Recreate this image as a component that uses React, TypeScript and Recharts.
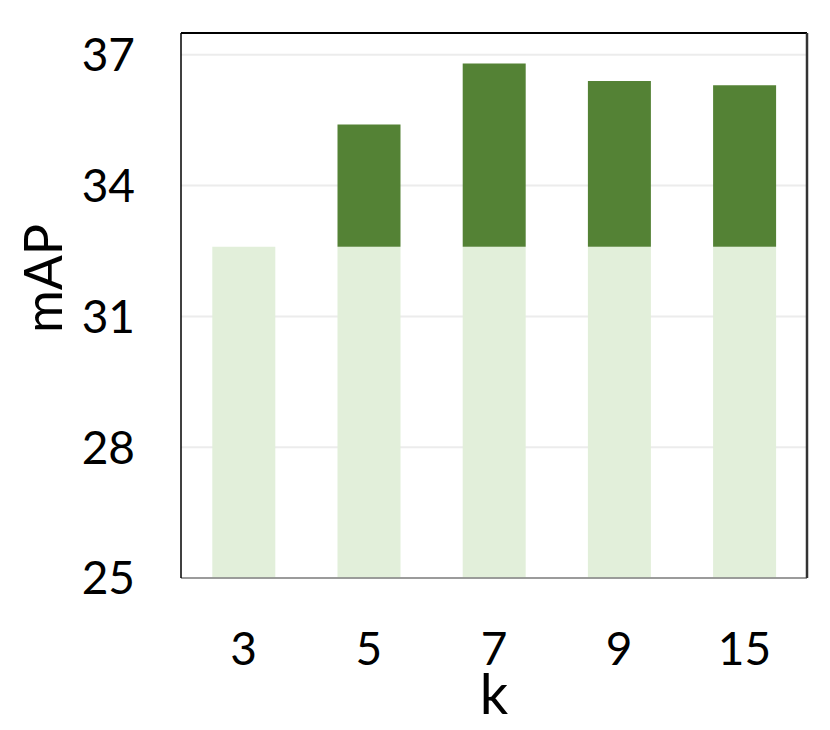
import { Bar, BarChart, CartesianGrid, ReferenceLine, XAxis, YAxis } from "recharts";

const categories = ["3", "5", "7", "9", "15"];
const baseMap = [32.6, 32.6, 32.6, 32.6, 32.6];
const totalMap = [32.6, 35.4, 36.8, 36.4, 36.3];
const yTicks = [25, 28, 31, 34, 37];

const data = categories.map((k, i) => ({
  k,
  base: baseMap[i],
  gain: +(totalMap[i] - baseMap[i]).toFixed(2),
}));

const font = "Lato, 'Open Sans', sans-serif";

const YLabel = (props: any) => {
  const vb = props.viewBox;
  const cx = vb.x + 62;
  const cy = vb.y + vb.height / 2 - 27;
  return (
    <text
      x={cx}
      y={cy}
      transform={`rotate(-90 ${cx} ${cy})`}
      textAnchor="middle"
      fontSize={52}
      fontFamily={font}
      fill="#000"
    >
      mAP
    </text>
  );
};

export default function App() {
  return (
    <div style={{ position: "absolute", left: 0, top: 0, background: "#fff" }}>
      <BarChart
        width={830}
        height={730}
        data={data}
        margin={{ top: 33, right: 22, bottom: 0, left: 0 }}
        barCategoryGap="25%"
      >
        <CartesianGrid
          yAxisId="left"
          vertical={false}
          stroke="#ececec"
          strokeWidth={2}
        />
        <XAxis
          dataKey="k"
          height={152}
          tickLine={false}
          tickSize={0}
          tickMargin={54}
          axisLine={{ stroke: "#808080", strokeWidth: 1.5 }}
          tick={{ fontSize: 46, fontFamily: font, fill: "#000" }}
          label={{
            value: "k",
            position: "insideBottom",
            offset: 16,
            fontSize: 56,
            fontFamily: font,
            fill: "#000",
          }}
        />
        <YAxis
          yAxisId="left"
          width={181}
          domain={[25, 37.5]}
          ticks={yTicks}
          allowDataOverflow
          tickLine={false}
          tickSize={0}
          tickMargin={46}
          axisLine={{ stroke: "#000", strokeWidth: 1.5 }}
          tick={{ fontSize: 46, fontFamily: font, fill: "#000" }}
          label={{ content: YLabel }}
        />
        <YAxis
          yAxisId="right"
          orientation="right"
          width={1}
          domain={[25, 37.5]}
          tick={false}
          tickLine={false}
          axisLine={{ stroke: "#333", strokeWidth: 2.5 }}
        />
        <ReferenceLine yAxisId="left" y={37.5} stroke="#000" strokeWidth={2} />
        <Bar
          yAxisId="left"
          dataKey="base"
          stackId="a"
          fill="#E2EFDA"
          isAnimationActive={false}
        />
        <Bar
          yAxisId="left"
          dataKey="gain"
          stackId="a"
          fill="#548235"
          isAnimationActive={false}
        />
      </BarChart>
    </div>
  );
}
